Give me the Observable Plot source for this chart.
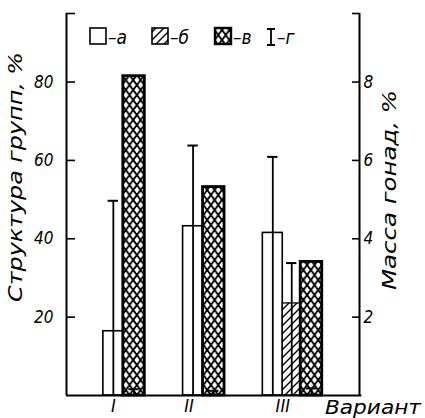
<!DOCTYPE html>
<html><head><meta charset="utf-8">
<script src="https://cdn.jsdelivr.net/npm/d3@7"></script>
<script src="https://cdn.jsdelivr.net/npm/@observablehq/plot@0.6"></script>
<style>
body{margin:0;background:#fff}
svg text{font-family:"DejaVu Sans Condensed","Liberation Sans Narrow","DejaVu Sans",sans-serif;font-style:italic;fill:#000}
</style>
</head><body><div id="chart"></div>
<script>
// ---- data ----
const groups = ["I", "II", "III"];
const seriesA = [16.4, 43.2, 41.5];      // а
const errA = [49.7, 63.8, 60.9];         // г for а
const seriesB = [null, null, 23.5];      // б
const errB = [null, null, 33.8];         // г for б
const seriesV = [81.5, 53.2, 34.1];      // в
const errV = [1.6, 1.2, 1.8];            // г for в
const leftTicks = [20, 40, 60, 80];
const rightTicks = [2, 4, 6, 8];
const legendLabels = ["а", "б", "в", "г"];
const yTitle = "Структура групп, %";
const y2Title = "Масса гонад, %";
const xTitle = "Вариант";

// ---- layout ----
const yTop = 97.5;
const xMax = 14.7;
const start = i => 1.85 + 4 * i;
const labelOffset = [0.5, 0.3, 1.0];
const bars = [], errs = [];
groups.forEach((g, i) => {
  let k = 0;
  const s = start(i);
  bars.push({kind: "a", x1: s + k, x2: s + k + 1, y: seriesA[i]});
  errs.push({x: s + k + 0.5, y: errA[i]});
  k++;
  if (seriesB[i] != null) {
    bars.push({kind: "b", x1: s + k, x2: s + k + 0.9, y: seriesB[i]});
    errs.push({x: s + k + 0.45, y: errB[i]});
    k += 0.9;
  }
  bars.push({kind: "v", x1: s + k, x2: s + k + 1.08, y: seriesV[i]});
  errs.push({x: s + k + 0.54, y: errV[i]});
});

const plot = Plot.plot({
  width: 425, height: 418,
  marginLeft: 66, marginRight: 66, marginTop: 13, marginBottom: 23,
  x: {domain: [0, xMax], axis: null},
  y: {domain: [0, yTop], axis: null},
  style: {fontSize: "17px", background: "#fff", color: "#000"},
  marks: [
    Plot.rect(bars.filter(d => d.kind === "a"), {x1: "x1", x2: "x2", y1: 0, y2: "y", fill: "white", stroke: "black", strokeWidth: 1.6}),
    Plot.rect(bars.filter(d => d.kind === "b"), {x1: "x1", x2: "x2", y1: 0, y2: "y", fill: "url(#hatch)", stroke: "black", strokeWidth: 1.3}),
    Plot.rect(bars.filter(d => d.kind === "v"), {x1: "x1", x2: "x2", y1: 0, y2: "y", fill: "url(#cross)", stroke: "black", strokeWidth: 2.8}),
    Plot.ruleX(errs, {x: "x", y1: 0, y2: "y", strokeWidth: 1.8}),
    Plot.ruleY(errs, {y: "y", x1: d => d.x - 0.26, x2: d => d.x + 0.26, strokeWidth: 2}),
    Plot.ruleX([0], {y1: 0, y2: yTop, strokeWidth: 2}),
    Plot.ruleX([xMax], {y1: 0, y2: yTop, strokeWidth: 2}),
    Plot.ruleY([0], {x1: 0, x2: xMax + 0.12, strokeWidth: 2.2}),
    Plot.axisY({anchor: "left", label: null, ticks: [...leftTicks, yTop], tickFormat: d => d === yTop ? "" : d, tickSize: -9, tickPadding: 22, strokeWidth: 1.6}),
    Plot.axisY({anchor: "right", label: null, ticks: [...rightTicks.map(d => d * 10), yTop], tickFormat: d => d === yTop ? "" : d / 10, tickSize: -8, tickPadding: 12, strokeWidth: 1.6}),
    Plot.text(groups, {x: (d, i) => start(i) + labelOffset[i], y: 0, dy: 11, fontSize: 18})
  ]
});

const svg = d3.select(plot);
const defs = svg.insert("defs", ":first-child");
const h = defs.append("pattern").attr("id", "hatch").attr("patternUnits", "userSpaceOnUse").attr("width", 8).attr("height", 8);
h.append("rect").attr("width", 8).attr("height", 8).attr("fill", "white");
h.append("path").attr("d", "M0,8L8,0M-2,2L2,-2M6,10L10,6").attr("stroke", "black").attr("stroke-width", 1.4);
const c = defs.append("pattern").attr("id", "cross").attr("patternUnits", "userSpaceOnUse").attr("width", 7.4).attr("height", 10);
c.append("rect").attr("width", 7.4).attr("height", 10).attr("fill", "white");
c.append("path").attr("d", "M0,0L7.4,10M7.4,0L0,10").attr("stroke", "black").attr("stroke-width", 1.9);

// legend
const lg = svg.append("g").attr("text-anchor", "start");
const fills = ["white", "url(#hatch)", "url(#cross)"];
const boxX = [90, 152, 215];
fills.forEach((f, i) => {
  lg.append("rect").attr("x", boxX[i]).attr("y", 28).attr("width", 16).attr("height", 16)
    .attr("fill", f).attr("stroke", "black").attr("stroke-width", i === 2 ? 2.4 : 1.6);
  lg.append("text").attr("x", boxX[i] + 18).attr("y", 44).attr("font-size", 19).attr("text-anchor", "start").text("–" + legendLabels[i]);
});
lg.append("path").attr("d", "M271,29V45M267,29H275M267,45H275").attr("stroke", "black").attr("stroke-width", 1.8).attr("fill", "none");
lg.append("text").attr("x", 277).attr("y", 44).attr("font-size", 19).attr("text-anchor", "start").text("–" + legendLabels[3]);

// titles
svg.append("text").attr("transform", "translate(22,177) rotate(-90)").attr("text-anchor", "middle")
  .attr("font-size", 19).attr("textLength", 250).attr("lengthAdjust", "spacingAndGlyphs").text(yTitle);
svg.append("text").attr("transform", "translate(396,190) rotate(-90)").attr("text-anchor", "middle")
  .attr("font-size", 19).attr("textLength", 200).attr("lengthAdjust", "spacingAndGlyphs").text(y2Title);
svg.append("text").attr("x", 325).attr("y", 414).attr("font-size", 19).attr("text-anchor", "start")
  .attr("textLength", 96).attr("lengthAdjust", "spacingAndGlyphs").text(xTitle);

document.getElementById("chart").appendChild(plot);
</script>
</body></html>
